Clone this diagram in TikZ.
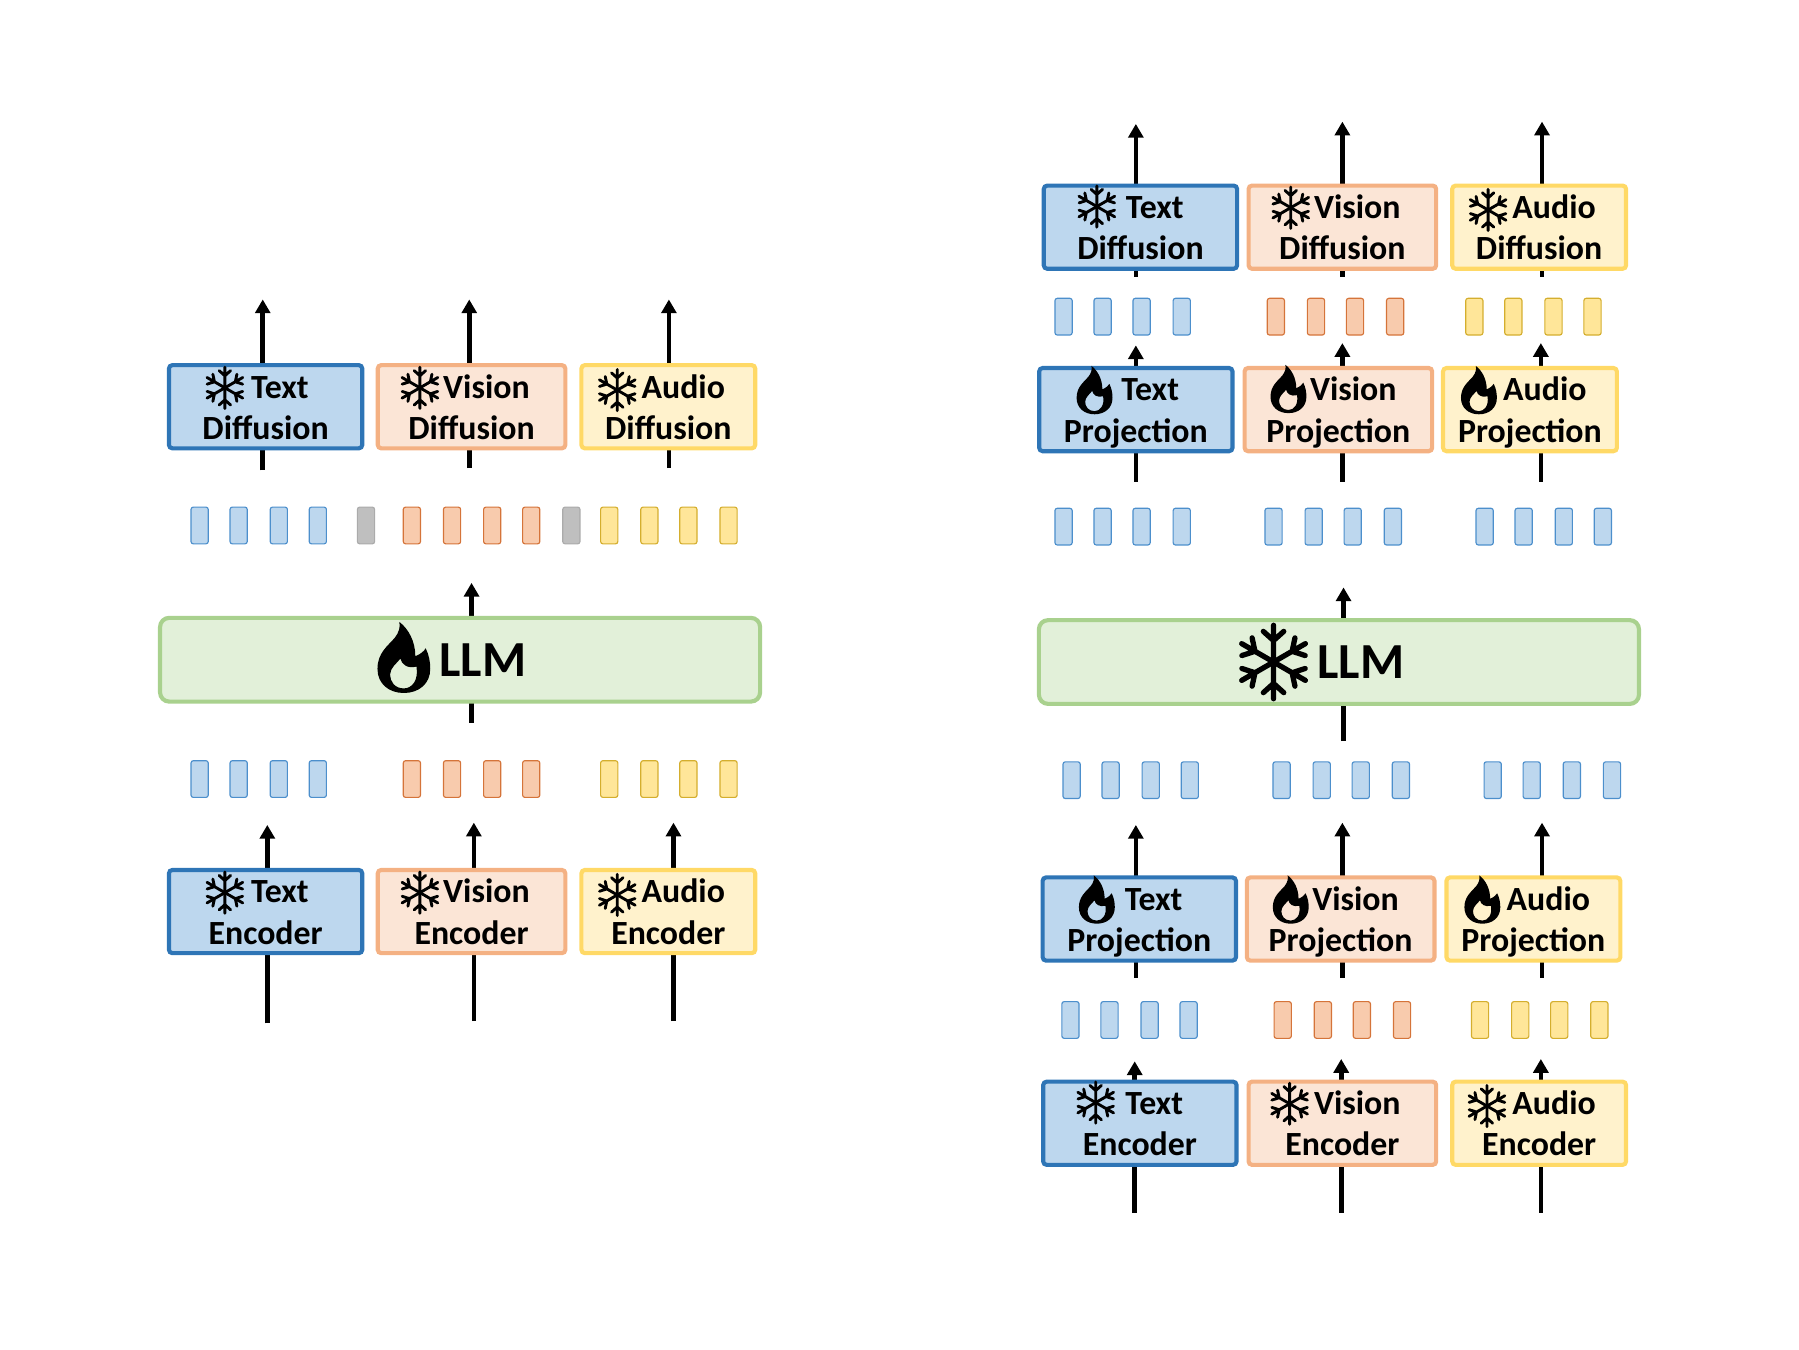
\documentclass[tikz,border=0pt]{standalone}
\usepackage{fontspec}
\setmainfont{Carlito}
\usetikzlibrary{arrows.meta}
\definecolor{bluefill}{HTML}{BDD7EE}\definecolor{bluedraw}{HTML}{2E75B6}
\definecolor{orangefill}{HTML}{FBE5D6}\definecolor{orangedraw}{HTML}{F4B183}
\definecolor{yellowfill}{HTML}{FFF2CC}\definecolor{yellowdraw}{HTML}{FFD966}
\definecolor{greenfill}{HTML}{E2F0D9}\definecolor{greendraw}{HTML}{A9D18E}
\definecolor{tokbdraw}{HTML}{4C8FCC}
\definecolor{tokofill}{HTML}{F8CBAD}\definecolor{tokodraw}{HTML}{D5743A}
\definecolor{tokyfill}{HTML}{FFE699}\definecolor{tokydraw}{HTML}{D4AE2E}
\definecolor{tokgfill}{HTML}{BFBFBF}\definecolor{tokgdraw}{HTML}{ABABAB}
\tikzset{
  flow/.style={line width=4pt,draw=black,-{Triangle[width=13pt,length=12pt]}},
  boxbase/.style={rectangle,rounded corners=3pt,line width=3.6pt,inner sep=0pt,
    minimum height=72.5pt,align=center,font=\fontsize{29.5}{36}\selectfont\bfseries},
  boxb/.style={boxbase,fill=bluefill,draw=bluedraw,minimum width=168.5pt},
  boxo/.style={boxbase,fill=orangefill,draw=orangedraw,minimum width=163.5pt},
  boxy/.style={boxbase,fill=yellowfill,draw=yellowdraw,minimum width=151.5pt},
  llmbox/.style={rectangle,rounded corners=8pt,line width=3.6pt,inner sep=0pt,
    fill=greenfill,draw=greendraw,minimum width=523pt,minimum height=73pt,
    font=\fontsize{44}{50}\selectfont\bfseries},
  tokbase/.style={rectangle,rounded corners=2pt,line width=1pt,inner sep=0pt,minimum width=15pt,minimum height=32pt},
  tokb/.style={tokbase,fill=bluefill,draw=tokbdraw},
  toko/.style={tokbase,fill=tokofill,draw=tokodraw},
  toky/.style={tokbase,fill=tokyfill,draw=tokydraw},
  tokg/.style={tokbase,fill=tokgfill,draw=tokgdraw},
  snowflake/.pic={
    \foreach \a in {30,90,...,330}{
      \draw[rotate=\a,line cap=round] (0,0) -- (18,0)
        (10.5,0) -- (15,5) (10.5,0) -- (15,-5);
    }
  },
  flame/.pic={
    \fill[black,even odd rule]
      (-4,-31) .. controls (4,-25) and (10,-14) .. (10,-1)
      .. controls (15,-3) and (18,-6) .. (19,-8)
      .. controls (22,-2) and (23,4) .. (23,10)
      .. controls (23,23) and (13,31) .. (0,31)
      .. controls (-13,31) and (-23,23) .. (-23,10)
      .. controls (-23,-4) and (-14,-10) .. (-8,-17)
      .. controls (-4,-22) and (-3,-27) .. (-4,-31) -- cycle
      (-3,1) .. controls (-2,6) and (3,10) .. (11,8)
      .. controls (13,20) and (7,27) .. (0,27)
      .. controls (-8,27) and (-12,21) .. (-12,15)
      .. controls (-12,9) and (-6,5) .. (-3,1) -- cycle;
  }
}
% name, style, center, shift of first line, first line, second line
\newcommand\modbox[6]{\node[#2] (#1) at (#3) {\rule{0pt}{21pt}\hspace*{#4}\smash{#5}\\\smash{#6}};}
\newcommand\arw[3]{\coordinate (s-#1-#2) at (#1,#2);\coordinate (e-#1-#3) at (#1,#3);\draw[flow] (s-#1-#2) -- (e-#1-#3);}
\newcommand\tokrow[3]{\foreach \x in {#3}{\node[#1] (tok-#2-\x) at (\x,#2) {};}}
\newcommand\sm[1]{\pic[line width=2.5pt] at (#1) {snowflake};}
\newcommand\fl[1]{\pic[scale=.68] at (#1) {flame};}
\begin{document}
\begin{tikzpicture}[x=1pt,y=-1pt]
\useasboundingbox (0,0) rectangle (1568,1176);
% --- left panel ---
\arw{229}{410}{261}\arw{409}{408}{261}\arw{583}{408}{261}
\arw{411}{630}{508}
\arw{233}{892}{719}\arw{413}{890}{717}\arw{587}{890}{717}
\modbox{ltd}{boxb}{231.5,354.5}{25pt}{Text}{Diffusion}
\modbox{lvd}{boxo}{411,354.5}{26pt}{Vision}{Diffusion}
\modbox{lad}{boxy}{582.5,354.5}{26pt}{Audio}{Diffusion}
\modbox{lte}{boxb}{231.5,794.5}{25pt}{Text}{Encoder}
\modbox{lve}{boxo}{411,794.5}{26pt}{Vision}{Encoder}
\modbox{lae}{boxy}{582.5,794.5}{26pt}{Audio}{Encoder}
\node[llmbox] (llmL) at (401,575) {\hspace*{40pt}\raisebox{-1.5pt}{LLM}};
\sm{196,338}\sm{366,338}\sm{538,340}
\sm{196,778}\sm{366,778}\sm{538,780}
\pic at (352,573) {flame};
\tokrow{tokb}{458}{174,208,243,277}
\tokrow{tokg}{458}{319,498}
\tokrow{toko}{458}{359,394,429,463}
\tokrow{toky}{458}{531,566,600,635}
\tokrow{tokb}{679}{174,208,243,277}
\tokrow{toko}{679}{359,394,429,463}
\tokrow{toky}{679}{531,566,600,635}
% --- right panel ---
\arw{990}{241}{108}\arw{1170}{241}{106}\arw{1344}{241}{106}
\arw{990}{420}{301}\arw{1170}{420}{299}\arw{1343}{420}{299}
\arw{1171}{646}{512}
\arw{990}{852}{719}\arw{1170}{852}{717}\arw{1344}{852}{717}
\arw{989}{1057}{925}\arw{1169}{1057}{923}\arw{1343}{1057}{923}
\modbox{rtd}{boxb}{994,198}{25pt}{Text}{Diffusion}
\modbox{rvd}{boxo}{1170,198}{26pt}{Vision}{Diffusion}
\modbox{rad}{boxy}{1341.5,198}{26pt}{Audio}{Diffusion}
\modbox{rtp}{boxb}{990,357}{25pt}{Text}{Projection}
\modbox{rvp}{boxo}{1166.5,357}{26pt}{Vision}{Projection}
\modbox{rap}{boxy}{1333.5,357}{26pt}{Audio}{Projection}
\node[llmbox] (llmR) at (1167,577) {\hspace*{38pt}\raisebox{-1.5pt}{LLM}};
\modbox{rtq}{boxb}{993,801}{25pt}{Text}{Projection}
\modbox{rvq}{boxo}{1168.5,801}{26pt}{Vision}{Projection}
\modbox{raq}{boxy}{1336.5,801}{26pt}{Audio}{Projection}
\modbox{rte}{boxb}{993.5,979}{25pt}{Text}{Encoder}
\modbox{rve}{boxo}{1170,979}{26pt}{Vision}{Encoder}
\modbox{rae}{boxy}{1341.5,979}{26pt}{Audio}{Encoder}
\sm{956,180}\sm{1125,181}\sm{1297,183}
\sm{955,961}\sm{1124,962}\sm{1296,964}
\fl{954,340}\fl{1123,339}\fl{1289,340}
\fl{956,784}\fl{1125,784}\fl{1292,784}
\pic[scale=1.78,line width=4.6pt] at (1110,577) {snowflake};
\tokrow{tokb}{276}{927,961,995,1030}
\tokrow{toko}{276}{1112,1147,1181,1216}
\tokrow{toky}{276}{1285,1319,1354,1388}
\tokrow{tokb}{459}{927,961,995,1030,1110,1145,1179,1214,1294,1328,1363,1397}
\tokrow{tokb}{680}{934,968,1003,1037,1117,1152,1186,1221,1301,1335,1370,1405}
\tokrow{tokb}{889}{933,967,1002,1036}
\tokrow{toko}{889}{1118,1153,1187,1222}
\tokrow{toky}{889}{1290,1325,1359,1394}
\end{tikzpicture}
\end{document}
